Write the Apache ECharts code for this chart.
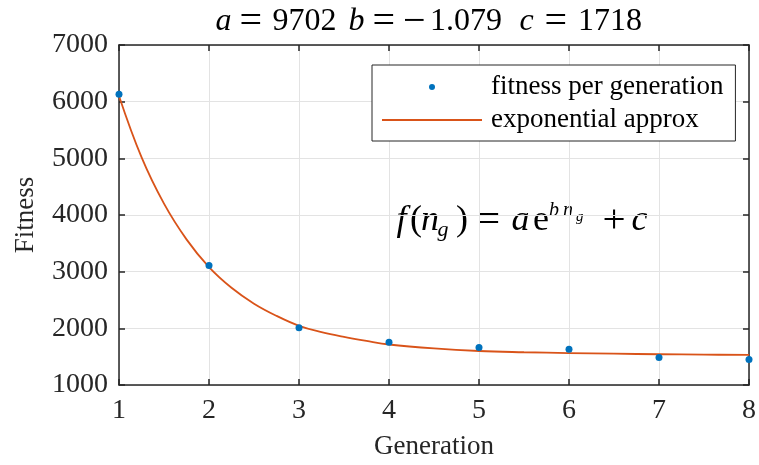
<!DOCTYPE html>
<html>
<head>
<meta charset="utf-8">
<script src="https://cdn.jsdelivr.net/npm/echarts@6/dist/echarts.min.js"></script>
<style>html,body{margin:0;padding:0;background:#fff}#c{width:759px;height:465px}</style>
</head>
<body>
<div id="c"></div>
<script>
var generations = [1, 2, 3, 4, 5, 6, 7, 8];
var fitness = [6130, 3110, 2012, 1755, 1660, 1630, 1485, 1450];
var approxX = [1, 1.25, 1.5, 1.75, 2, 2.25, 2.5, 2.75, 3, 3.25, 3.5, 3.75, 4, 4.5, 5, 5.5, 6, 6.5, 7, 7.5, 8];
var approxY = [6100, 5020, 4200, 3570, 3080, 2715, 2435, 2220, 2045, 1935, 1850, 1778, 1715, 1645, 1600, 1578, 1563, 1552, 1543, 1536, 1530];
var xTicks = [1, 2, 3, 4, 5, 6, 7, 8];
var yTicks = [1000, 2000, 3000, 4000, 5000, 6000, 7000];

var FONT = '"Liberation Serif", "Times New Roman", serif';
var AX = '#262626';

var chart = echarts.init(document.getElementById('c'), null, {renderer: 'canvas'});

function pairs(xs, ys) { return xs.map(function (x, i) { return [x, ys[i]]; }); }

// Build a rich-text string from [text, style, slotWidth] parts (glyph left-aligned in slot).
function buildRich(parts) {
  var text = '', rich = {};
  parts.forEach(function (p, i) {
    var key = 't' + i;
    text += '{' + key + '|' + p[0] + '}';
    rich[key] = Object.assign({fontFamily: FONT, color: '#000', textBorderWidth: 0, width: p[2], align: 'left'}, p[1]);
  });
  return {text: text, rich: rich};
}

var T = {fontSize: 32, lineHeight: 36};
var TI = {fontSize: 32, lineHeight: 36, fontStyle: 'italic'};
var TE = {fontSize: 40, lineHeight: 36};
var titleRich = buildRich([
  ['a', TI, 24], ['=', TE, 33], ['9702', T, 76],
  ['b', TI, 24], ['=', TE, 30.5], ['−', TE, 27], ['1.079', T, 89.5],
  ['c', TI, 25], ['=', TE, 33.5], ['1718', T, 76]
]);

var M = {fontSize: 36, lineHeight: 46, verticalAlign: 'middle'};
var MI = {fontSize: 36, lineHeight: 46, verticalAlign: 'middle', fontStyle: 'italic'};
var ME = {fontSize: 41, lineHeight: 46, verticalAlign: 'middle'};
var SUB = {fontSize: 22, fontStyle: 'italic', lineHeight: 22, verticalAlign: 'bottom', padding: [0, 0, 3, 0]};
var SUP = {fontSize: 20, fontStyle: 'italic', lineHeight: 20, verticalAlign: 'top', padding: [3, 0, 0, 0]};
var SS = {fontSize: 15, fontStyle: 'italic', lineHeight: 15, verticalAlign: 'top', padding: [12, 0, 0, 0]};
var formulaRich = buildRich([
  ['f', MI, 13.5], ['(', M, 11], ['n', MI, 16.5], ['g', SUB, 18.5], [')', M, 21],
  ['=', ME, 34.5], ['a', MI, 21.5], ['e', M, 16], ['b', SUP, 14], ['n', SUP, 13], ['g', SS, 26.5],
  ['+', ME, 29], ['c', MI, 20]
]);

var baseX = {
  type: 'value', min: xTicks[0], max: xTicks[xTicks.length - 1], interval: 1,
  axisLine: {show: true, onZero: false, lineStyle: {color: AX, width: 1.5}},
  axisTick: {show: true, inside: true, length: 6, lineStyle: {color: AX, width: 1.5}}
};
var baseY = {
  type: 'value', min: yTicks[0], max: yTicks[yTicks.length - 1], interval: 1000,
  axisLine: {show: true, onZero: false, lineStyle: {color: AX, width: 1.5}},
  axisTick: {show: true, inside: true, length: 6, lineStyle: {color: AX, width: 1.5}}
};

chart.setOption({
  animation: false,
  backgroundColor: '#fff',
  grid: {left: 119, right: 7, top: 45, bottom: 79, containLabel: false},
  legend: {
    orient: 'vertical', left: 372, top: 65,
    padding: [7, 12, 6, 10], itemGap: 3,
    itemWidth: 100, itemHeight: 6,
    borderColor: AX, borderWidth: 1, backgroundColor: '#fff',
    textStyle: {fontFamily: FONT, fontSize: 27, color: '#000', lineHeight: 30, padding: [0, 0, 0, 4]},
    data: [
      {name: 'fitness per generation'},
      {name: 'exponential approx', icon: 'path://M0,0H100V1.8H0Z', itemStyle: {color: '#D95319'}}
    ]
  },
  xAxis: [
    Object.assign({}, baseX, {
      position: 'bottom',
      name: 'Generation', nameLocation: 'middle', nameGap: 48,
      nameTextStyle: {fontFamily: FONT, fontSize: 27, color: AX},
      axisLabel: {fontFamily: FONT, fontSize: 28, color: AX, margin: 12},
      splitLine: {show: true, lineStyle: {color: '#e3e3e3', width: 1}}
    }),
    Object.assign({}, baseX, {
      position: 'top', axisLabel: {show: false}, splitLine: {show: false}
    })
  ],
  yAxis: [
    Object.assign({}, baseY, {
      position: 'left',
      name: 'Fitness', nameLocation: 'middle', nameGap: 80, nameRotate: 90,
      nameTextStyle: {fontFamily: FONT, fontSize: 27, color: AX},
      axisLabel: {fontFamily: FONT, fontSize: 28, color: AX, margin: 11, formatter: function (v) { return String(v); }},
      splitLine: {show: true, lineStyle: {color: '#e3e3e3', width: 1}}
    }),
    Object.assign({}, baseY, {
      position: 'right', axisLabel: {show: false}, splitLine: {show: false}
    })
  ],
  series: [
    {
      name: 'exponential approx', type: 'line', xAxisIndex: 0, yAxisIndex: 0,
      data: pairs(approxX, approxY), smooth: 0.4, showSymbol: false, symbol: 'none',
      lineStyle: {color: '#D95319', width: 1.8}, itemStyle: {color: '#D95319'}, z: 3
    },
    {
      name: 'fitness per generation', type: 'scatter', xAxisIndex: 0, yAxisIndex: 0,
      data: pairs(generations, fitness), symbol: 'circle', symbolSize: 7,
      itemStyle: {color: '#0072BD', opacity: 1}, z: 4, clip: false
    }
  ],
  graphic: [{
    type: 'text', x: 215.5, y: 22, silent: true,
    style: {text: titleRich.text, rich: titleRich.rich, verticalAlign: 'middle', fill: '#000', lineWidth: 0}
  }, {
    type: 'text', x: 396.5, y: 221, silent: true,
    style: {text: formulaRich.text, rich: formulaRich.rich, verticalAlign: 'middle', fill: '#000', lineWidth: 0}
  }]
});
</script>
</body>
</html>
